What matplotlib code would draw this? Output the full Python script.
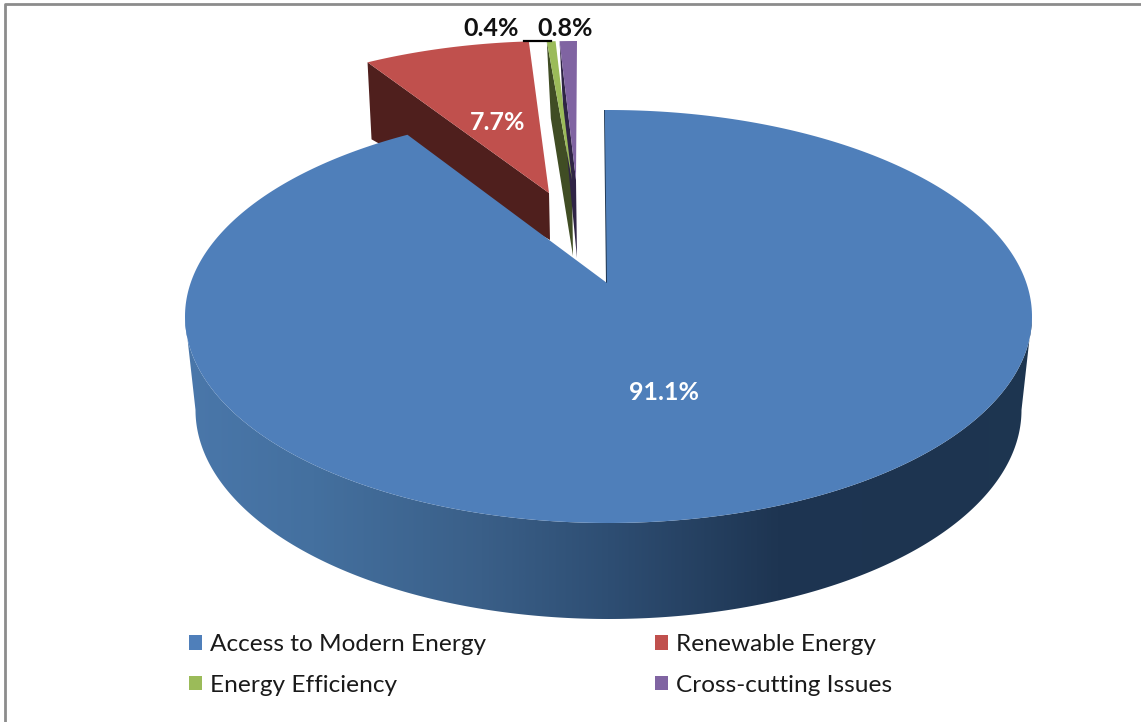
import numpy as np
import matplotlib
matplotlib.use("Agg")
import matplotlib.pyplot as plt
from matplotlib.patches import Polygon, Rectangle
from matplotlib.colors import LinearSegmentedColormap

categories = ["Access to Modern Energy", "Renewable Energy", "Energy Efficiency", "Cross-cutting Issues"]
shares = [91.1, 7.7, 0.4, 0.8]
share_labels = ["91.1%", "7.7%", "0.4%", "0.8%"]
colors = ["#4f7fba", "#c0504d", "#9bbb59", "#8064a2"]
side_colors = ["#1f3650", "#4f1f1d", "#404d24", "#2f2445"]

W, H = 1141, 722
RX, RY = 423.5, 206.5
plt.rcParams['font.family'] = ['Lato', 'DejaVu Sans']
fig = plt.figure(figsize=(W / 100, H / 100), dpi=100)
ax = fig.add_axes([0, 0, 1, 1])
ax.set_xlim(0, W)
ax.set_ylim(H, 0)
ax.axis("off")

# chart frame
ax.plot([5, 5, W + 5, W + 5, 5], [H + 5, 4, 4, H + 5, H + 5], color="#8c8c8c", lw=2, zorder=1)


def arc(cx, cy, rx, ry, t0, t1, n=200):
    t = np.radians(np.linspace(t0, t1, n))
    return np.column_stack([cx + rx * np.sin(t), cy - ry * np.cos(t)])


# --- main slice -------------------------------------------------------------
cx, cy = 608.5, 316.5
t_end = shares[0] * 3.6 * 1.0128 - 0.5
top = arc(cx, cy, RX, RY, -0.5, t_end, 400)
# cylinder wall with horizontal gradient
low_cx, low_cy, low_rx, low_ry = 608.5, 410.0, 413.0, 209.0
bottom = arc(low_cx, low_cy, low_rx, low_ry, 90, 270, 300)
upper = arc(cx, cy, RX, RY, 90, 270, 300)
wall = np.vstack([upper, bottom[::-1]])
cmap = LinearSegmentedColormap.from_list("wall", [
    (0.00, "#4a77aa"), (0.15, "#44709f"), (0.35, "#3a5f88"), (0.50, "#2e4e73"),
    (0.70, "#1e3552"), (0.90, "#1d3450"), (1.00, "#1e3651")])
im = ax.imshow(np.linspace(0, 1, 512)[None, :], cmap=cmap, aspect="auto",
               extent=[cx - RX, cx + RX, 625, 300], zorder=2)
im.set_clip_path(Polygon(wall, closed=True, transform=ax.transData))
ax.set_xlim(0, W)
ax.set_ylim(H, 0)
apex0 = (607, 283)
ax.add_patch(Polygon([(604, top[0, 1]), (607, top[0, 1]), apex0, (606, 283)], closed=True,
                     fc=side_colors[0], ec="none", zorder=3))
ax.add_patch(Polygon(np.vstack([[apex0], top]), closed=True, fc=colors[0], ec="none", zorder=6))

# --- exploded group ---------------------------------------------------------
SQUEEZE = 0.82
after = np.array([sum(shares[i + 1:]) for i in range(4)])
centers = {1: 555.0, 2: 573.0, 3: 577.0}
apexes = {1: (549, 193), 2: (572, 180), 3: (576, 180)}
depth = {1: 47, 2: 76, 3: 78}
cy2 = 247.5
for i in (1, 2, 3):
    t0 = -SQUEEZE * 3.6 * (after[i] + shares[i])
    t1 = -SQUEEZE * 3.6 * after[i]
    a = arc(centers[i], cy2, RX, RY, t0, t1, 60)
    ap = apexes[i]
    d = depth[i]
    ax.add_patch(Polygon([a[0], ap, (ap[0] + 1, ap[1] + d), (a[0, 0] + 4, a[0, 1] + 77)], closed=True,
                         fc=side_colors[i], ec="none", zorder=4))
    ax.add_patch(Polygon(np.vstack([[ap], a]), closed=True, fc=colors[i], ec="none", zorder=5))

# leader line
ax.plot([524, 551], [41, 41], color="black", lw=1.6, zorder=7)

# --- labels -----------------------------------------------------------------
label_xy = [(664, 392), (498, 122), (491, 29), (565, 29)]
label_col = ["white", "white", "#111111", "#111111"]
for s, xy, c in zip(share_labels, label_xy, label_col):
    ax.text(*xy, s, color=c, fontsize=18, fontweight="bold", ha="center", va="center", zorder=8)

# --- legend -----------------------------------------------------------------
handles = [Rectangle((0, 0), 1, 1, fc=c, ec="none") for c in colors]
order = [0, 2, 1, 3]
ax.legend([handles[i] for i in order], [categories[i] for i in order], ncol=2, frameon=False,
          loc="upper left", bbox_to_anchor=(189, 634), bbox_transform=ax.transData,
          fontsize=17.6, handlelength=0.53, handleheight=0.53, handletextpad=0.33,
          columnspacing=6.9, labelspacing=0.8, labelcolor="#1a1a1a", borderpad=0, borderaxespad=0)

fig.savefig("out.png", dpi=100, facecolor="white")
